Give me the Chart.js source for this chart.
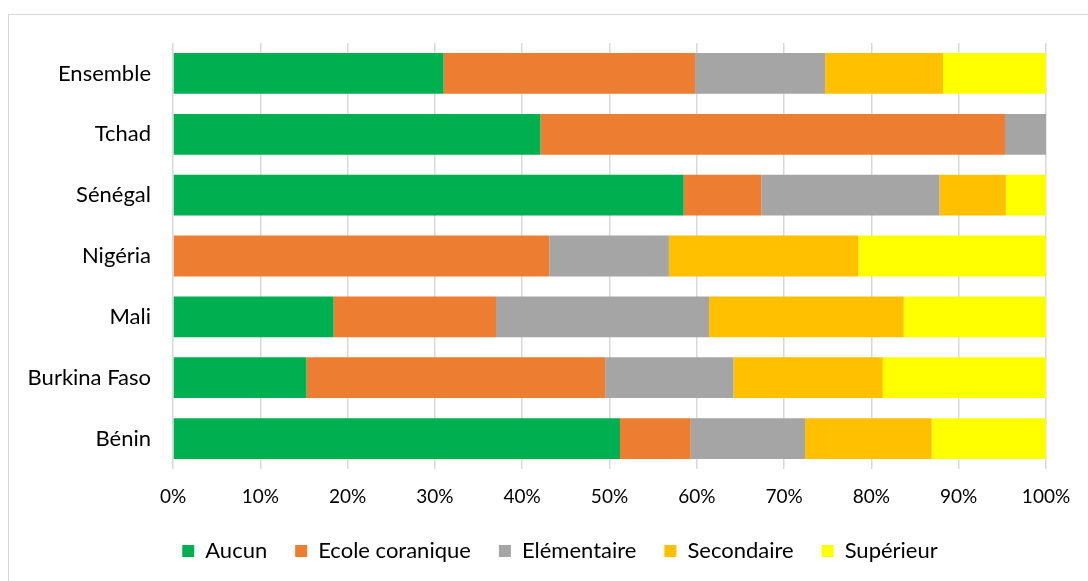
<!DOCTYPE html>
<html>
<head>
<meta charset="utf-8">
<script src="https://cdn.jsdelivr.net/npm/chart.js@4"></script>
<style>
  html, body { margin: 0; padding: 0; background: #fff; overflow: hidden; }
  #frame { position: absolute; left: 8px; top: 14px; width: 1100px; height: 600px; border: 1.5px solid #d9d9d9; box-sizing: border-box; }
  #wrap { position: absolute; left: 0; top: 0; width: 1088px; height: 581px; }
</style>
</head>
<body>
<div id="frame"></div>
<div id="wrap"><canvas id="chart" width="1088" height="581"></canvas></div>
<script>
const countries = ["Ensemble", "Tchad", "Sénégal", "Nigéria", "Mali", "Burkina Faso", "Bénin"];
const seriesNames = ["Aucun", "Ecole coranique", "Elémentaire", "Secondaire", "Supérieur"];
const seriesColors = ["#00b050", "#ed7d31", "#a5a5a5", "#ffc000", "#ffff00"];

// shares in %, same order as countries
const aucun      = [31.0, 42.1, 58.5,  0.0, 18.4, 15.3, 51.2];
const coranique  = [28.8, 53.2,  8.9, 43.1, 18.6, 34.2,  8.1];
const elementaire= [14.9,  4.7, 20.4, 13.7, 24.4, 14.7, 13.1];
const secondaire = [13.5,  0.0,  7.6, 21.7, 22.3, 17.1, 14.5];
const superieur  = [11.8,  0.0,  4.6, 21.5, 16.3, 18.7, 13.1];

const xTicks = [0, 10, 20, 30, 40, 50, 60, 70, 80, 90, 100];

const allSeries = [aucun, coranique, elementaire, secondaire, superieur];
const labelFont = { family: "Lato", size: 22 };
const tickFont = { family: "Lato", size: 19 };

// nudge the legend to the right, like the original
const legendShift = {
  id: "legendShift",
  afterLayout(chart) {
    chart.legend.left += 37;
    chart.legend.right += 37;
  }
};

new Chart(document.getElementById("chart").getContext("2d"), {
  type: "bar",
  data: {
    labels: countries,
    datasets: allSeries.map((vals, i) => ({
      label: seriesNames[i],
      data: vals,
      backgroundColor: seriesColors[i],
      borderWidth: 0,
      categoryPercentage: 1,
      barPercentage: 0.67
    }))
  },
  options: {
    indexAxis: "y",
    responsive: false,
    animation: false,
    layout: { padding: { left: 0, right: 42, top: 43, bottom: 9 } },
    scales: {
      x: {
        stacked: true,
        min: 0,
        max: 100,
        afterBuildTicks: (s) => { s.ticks = xTicks.map(v => ({ value: v })); },
        afterFit: (s) => { s.height = 43; },
        grid: { color: "#d9d9d9", lineWidth: 1.5, drawTicks: false },
        border: { display: false },
        ticks: { color: "#000", font: tickFont, padding: 16, callback: (v) => v + "%" }
      },
      y: {
        stacked: true,
        afterFit: (s) => { s.width = 173; },
        grid: { display: false, drawTicks: false },
        border: { display: false },
        ticks: { color: "#000", font: labelFont, padding: 22 }
      }
    },
    plugins: {
      legend: {
        position: "bottom",
        labels: { color: "#000", font: labelFont, boxWidth: 12, boxHeight: 12, padding: 28 }
      },
      tooltip: { enabled: false }
    }
  },
  plugins: [legendShift]
});
</script>
</body>
</html>
